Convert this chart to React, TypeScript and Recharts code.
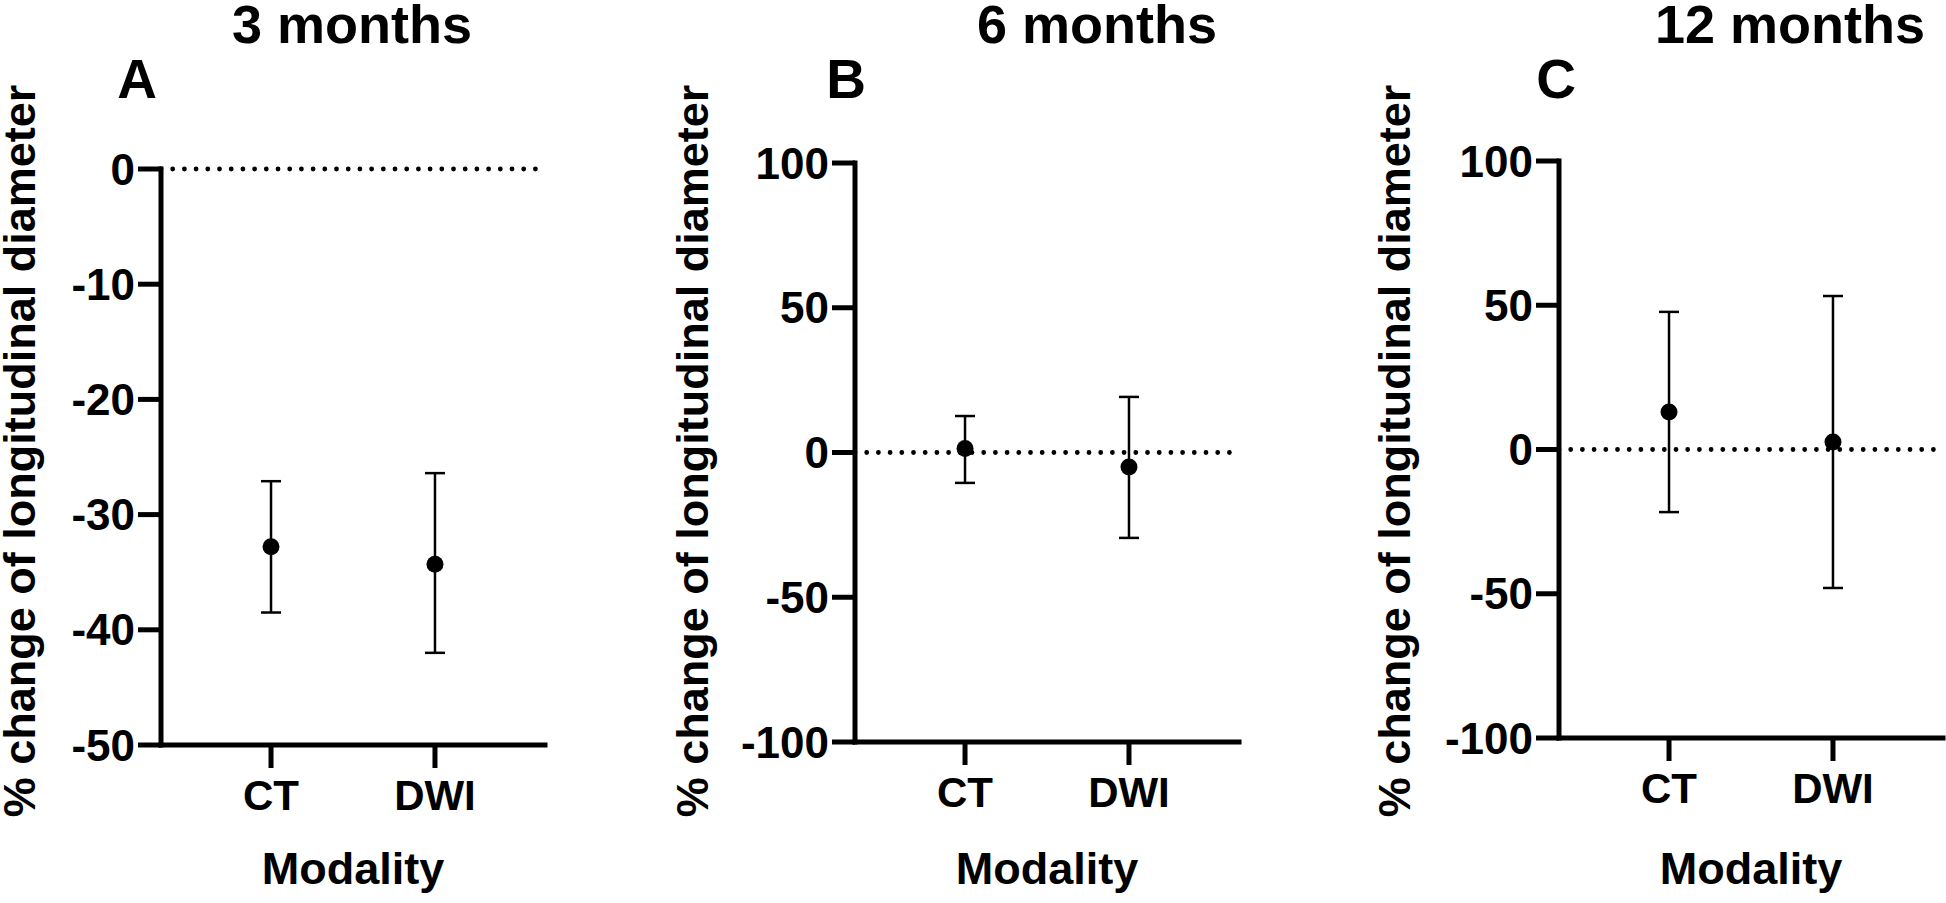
import React from 'react';
import { ScatterChart, Scatter, XAxis, YAxis, ErrorBar, ReferenceLine } from 'recharts';

const categories = ['CT', 'DWI'];

const means3 = [-32.8, -34.3];
const upper3 = [-27.1, -26.4];
const lower3 = [-38.5, -42.0];

const means6 = [1.4, -5.0];
const upper6 = [12.6, 19.2];
const lower6 = [-10.5, -29.5];

const means12 = [13.0, 2.6];
const upper12 = [47.7, 53.2];
const lower12 = [-21.7, -48.0];

const ticks3 = [-50, -40, -30, -20, -10, 0];
const ticks612 = [-100, -50, 0, 50, 100];

const titles = ['3 months', '6 months', '12 months'];
const letters = ['A', 'B', 'C'];
const yLabel = '% change of longitudinal diameter';
const xLabel = 'Modality';

const FONT = '"Liberation Sans", Arial, Helvetica, sans-serif';

const build = (m: number[], up: number[], lo: number[]) =>
  categories.map((c, i) => ({ x: i + 1, y: m[i], err: [m[i] - lo[i], up[i] - m[i]] }));

const panels = [
  { data: build(means3, upper3, lower3), ticks: ticks3, domain: [-50, 0], axisX: 161, top: 169, bottom: 745,
    title: titles[0], titleX: 352, letter: letters[0], letterX: 137, labelX: 35 },
  { data: build(means6, upper6, lower6), ticks: ticks612, domain: [-100, 100], axisX: 855, top: 163, bottom: 742,
    title: titles[1], titleX: 1097, letter: letters[1], letterX: 846, labelX: 708 },
  { data: build(means12, upper12, lower12), ticks: ticks612, domain: [-100, 100], axisX: 1559, top: 161, bottom: 738,
    title: titles[2], titleX: 1790, letter: letters[2], letterX: 1556, labelX: 1410 },
];

const PLOT_W = 384;
const Y_W = 150;
const X_H = 60;
const H = 903;

const Dot = (p: any) => <circle cx={p.cx} cy={p.cy} r={8.5} fill="#000" />;

function Panel({ cfg }: { cfg: any }) {
  const width = Y_W + PLOT_W + 4;
  return (
    <div style={{ position: 'absolute', left: cfg.axisX - Y_W, top: 0, width, height: H }}>
      <ScatterChart
        width={width}
        height={H}
        margin={{ top: cfg.top, right: 4, bottom: H - cfg.bottom - X_H, left: 0 }}
      >
        <XAxis
          type="number"
          dataKey="x"
          domain={[0.329, 2.671]}
          ticks={[1, 2]}
          interval={0}
          allowDataOverflow
          tickFormatter={(v: number) => categories[v - 1]}
          height={X_H}
          tickSize={23}
          tickMargin={12}
          axisLine={{ stroke: '#000', strokeWidth: 5, strokeLinecap: 'square' }}
          tickLine={{ stroke: '#000', strokeWidth: 5 }}
          tick={{ fill: '#000', fontSize: 42, fontWeight: 700, fontFamily: FONT }}
        />
        <YAxis
          type="number"
          dataKey="y"
          domain={cfg.domain}
          ticks={cfg.ticks}
          interval={0}
          allowDataOverflow
          width={Y_W}
          tickSize={23}
          tickMargin={3}
          axisLine={{ stroke: '#000', strokeWidth: 5, strokeLinecap: 'square' }}
          tickLine={{ stroke: '#000', strokeWidth: 5 }}
          tick={{ fill: '#000', fontSize: 44, fontWeight: 700, fontFamily: FONT }}
        />
        <ReferenceLine
          y={0}
          stroke="#000"
          strokeWidth={4.8}
          strokeDasharray="0 11.7"
          strokeLinecap="round"
        />
        <Scatter data={cfg.data} fill="#000" shape={Dot} isAnimationActive={false}>
          <ErrorBar dataKey="err" direction="y" width={10} stroke="#000" strokeWidth={2.5} isAnimationActive={false} />
        </Scatter>
      </ScatterChart>
    </div>
  );
}

export default function App() {
  return (
    <div style={{ position: 'absolute', left: 0, top: 0, width: 1946, height: H, overflow: 'hidden', background: '#fff' }}>
      {panels.map((p, i) => (
        <Panel key={i} cfg={p} />
      ))}
      <svg
        width={1946}
        height={H}
        style={{ position: 'absolute', left: 0, top: 0, pointerEvents: 'none' }}
      >
        {panels.map((p, i) => (
          <g key={i} fontFamily={FONT} fontWeight={700} fill="#000">
            <text x={p.titleX} y={43} fontSize={54} textAnchor="middle">{p.title}</text>
            <text x={p.letterX} y={98} fontSize={55} textAnchor="middle">{p.letter}</text>
            <text transform={`translate(${p.labelX},451) rotate(-90)`} fontSize={45} textAnchor="middle">{yLabel}</text>
            <text x={p.axisX + PLOT_W / 2} y={884} fontSize={45} textAnchor="middle">{xLabel}</text>
          </g>
        ))}
      </svg>
    </div>
  );
}
